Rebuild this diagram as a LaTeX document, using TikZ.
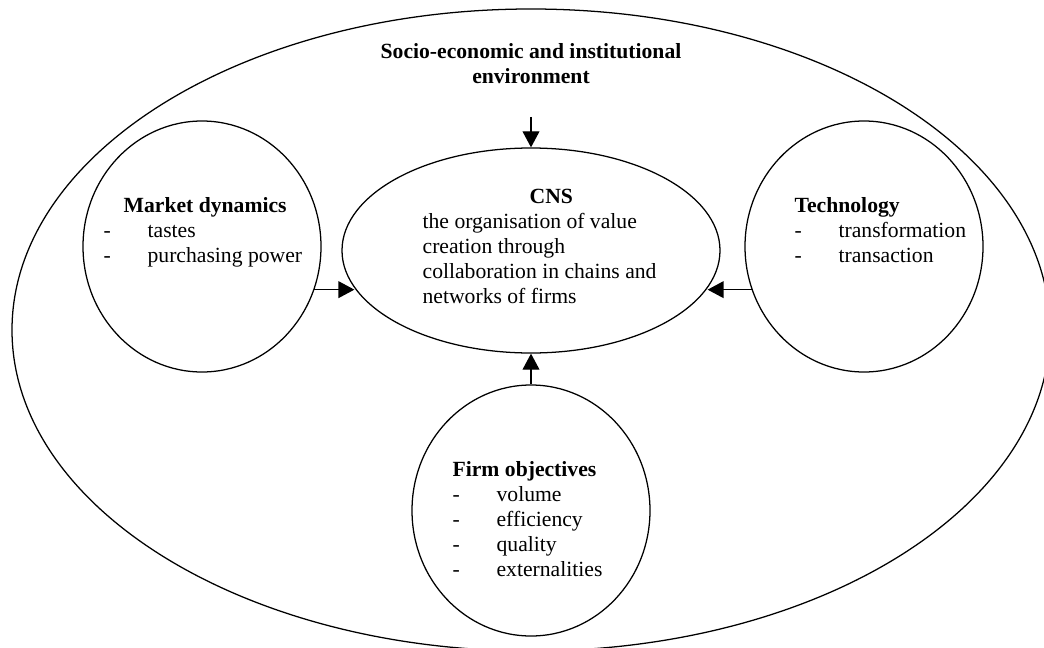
\documentclass[tikz,border=0pt]{standalone}
\usepackage{fontspec}
\setmainfont{Liberation Serif}
\usetikzlibrary{arrows.meta,shapes.geometric}

\newcommand{\itm}[1]{\makebox[1.1cm][l]{-}#1}

\begin{document}
\begin{tikzpicture}[line width=0.9pt, >={Triangle[length=0.4cm,width=0.42cm]},
  ring/.style={ellipse, draw, inner sep=0pt},
  envelope/.style={ring, minimum width=25.95cm, minimum height=16.05cm},
  core/.style={ring, minimum width=9.45cm, minimum height=5.125cm},
  factor/.style={ring, minimum width=5.95cm, minimum height=6.275cm},
  txt/.style={inner sep=0pt, align=left, anchor=north west, font=\fontsize{15.4}{17.8}\selectfont}
  ]
\useasboundingbox (0,0) rectangle (26.1,-16.2);

% Outer environment
\node[envelope] (env) at (13.275,-8.25) {};
\node[txt, anchor=north, align=center] (envtitle) at (13.275,-1.0825)
  {\textbf{Socio-economic and institutional}\\\textbf{environment}};

% Core and the three factors
\node[core] (cns) at (13.275,-6.2625) {};
\node[factor] (market) at (5.05,-6.1625) {};
\node[factor] (tech) at (21.6,-6.1625) {};
\node[factor] (firm) at (13.275,-12.7625) {};

\node[txt] (cnstext) at (10.55,-4.715) {\hspace*{2.675cm}\textbf{CNS}\\the organisation of value\\creation through\\collaboration in chains and\\networks of firms};
\node[txt] (markettext) at (2.575,-4.93) {\hspace*{0.5cm}\textbf{Market dynamics}\\\itm{tastes}\\\itm{purchasing power}};
\node[txt] (techtext) at (19.85,-4.93) {\textbf{Technology}\\\itm{transformation}\\\itm{transaction}};
\node[txt] (firmtext) at (11.3,-11.53) {\textbf{Firm objectives}\\\itm{volume}\\\itm{efficiency}\\\itm{quality}\\\itm{externalities}};

% Arrows into CNS
\coordinate (envin) at (13.275,-2.925);
\draw[->] (envin) -- (cns.north);
\draw[->] (market.-21.3) -- (market.-21.3 -| cns.192.8);
\draw[->] (tech.201.3) -- (tech.201.3 -| cns.-12.8);
\draw[->] (firm.north) -- (cns.south);

\end{tikzpicture}
\end{document}
